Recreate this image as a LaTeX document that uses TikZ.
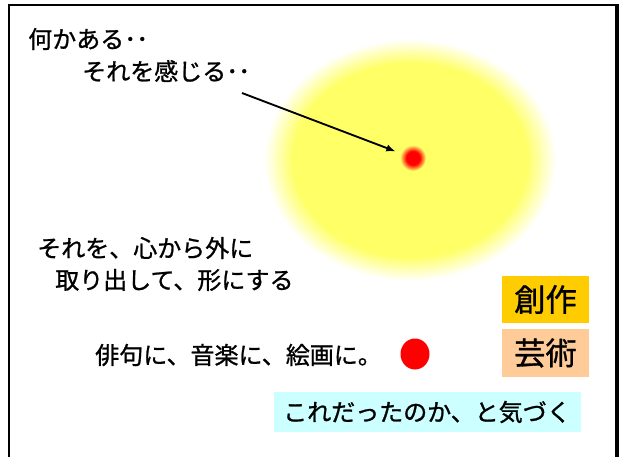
\documentclass[tikz,border=0pt]{standalone}
\usepackage{fontspec}
\setmainfont[FakeBold=1]{Noto Sans CJK JP}
\usetikzlibrary{arrows.meta}
\newlength\pxu
\setlength\pxu{0.75pt}
\definecolor{sunyellow}{HTML}{FFFF66}
\definecolor{sakuhin}{HTML}{FFCC00}
\definecolor{geijutsu}{HTML}{FFCC99}
\definecolor{kizuki}{HTML}{CCFFFF}
\pgfdeclareradialshading{sunglow}{\pgfpoint{0bp}{0bp}}{%
  color(0bp)=(sunyellow); color(20bp)=(sunyellow); color(25bp)=(white); color(50bp)=(white)}
\pgfdeclareradialshading{redglow}{\pgfpoint{0bp}{0bp}}{%
  color(0bp)=(red); color(13bp)=(red); color(25bp)=(sunyellow); color(50bp)=(sunyellow)}
\begin{document}
\begin{tikzpicture}[x=0.75pt, y=-0.75pt,
    txt/.style={anchor=west, inner sep=0pt, font=\fontsize{18}{22}\selectfont},
    tag/.style={minimum width=87*\pxu, inner sep=0pt, font=\fontsize{23.5}{28}\selectfont}]
    \useasboundingbox (0, 0) rectangle (619, 457) ;
    % frame
    \draw[line width=2*\pxu] (9, 460) |- (616, 4.5) -- (616, 460) ;
    \fill (616, 3.5) rectangle (619, 457) ;
    % the glow and the spark in it
    \shade[shading=sunglow] (410, 160) ellipse [x radius=146, y radius=121] ;
    \node[circle, minimum size=26*\pxu, inner sep=0pt, shading=redglow] (spark) at (413, 158) {} ;
    % texts
    \node[txt] (aru) at (28, 39) {何かある･･} ;
    \node[txt] (kanjiru) at (82, 71) {それを感じる･･} ;
    \coordinate (from) at (242, 93) ;
    \draw[line width=1.4pt, -{Latex[length=7pt, width=5.5pt]}, shorten >=4pt] (from) -- (spark) ;
    \node[txt] (soto) at (37, 248) {それを、心から外に} ;
    \node[txt] (katachi) at (55, 280) {取り出して、形にする} ;
    \node[txt] (haiku) at (95, 355) {俳句に、音楽に、絵画に。} ;
    \fill[red] (415, 354) ellipse [x radius=14.5, y radius=15.5] ;
    \node[fill=kizuki, minimum width=307*\pxu, minimum height=40*\pxu, inner sep=0pt,
      font=\fontsize{18}{22}\selectfont] (kizuku) at (427, 412) {これだったのか、と気づく} ;
    \node[tag, fill=sakuhin, minimum height=47*\pxu] (sousaku) at (545.5, 299.5) {創作} ;
    \node[tag, fill=geijutsu, minimum height=48*\pxu] (geijutsu) at (545.5, 353) {芸術} ;
\end{tikzpicture}
\end{document}
